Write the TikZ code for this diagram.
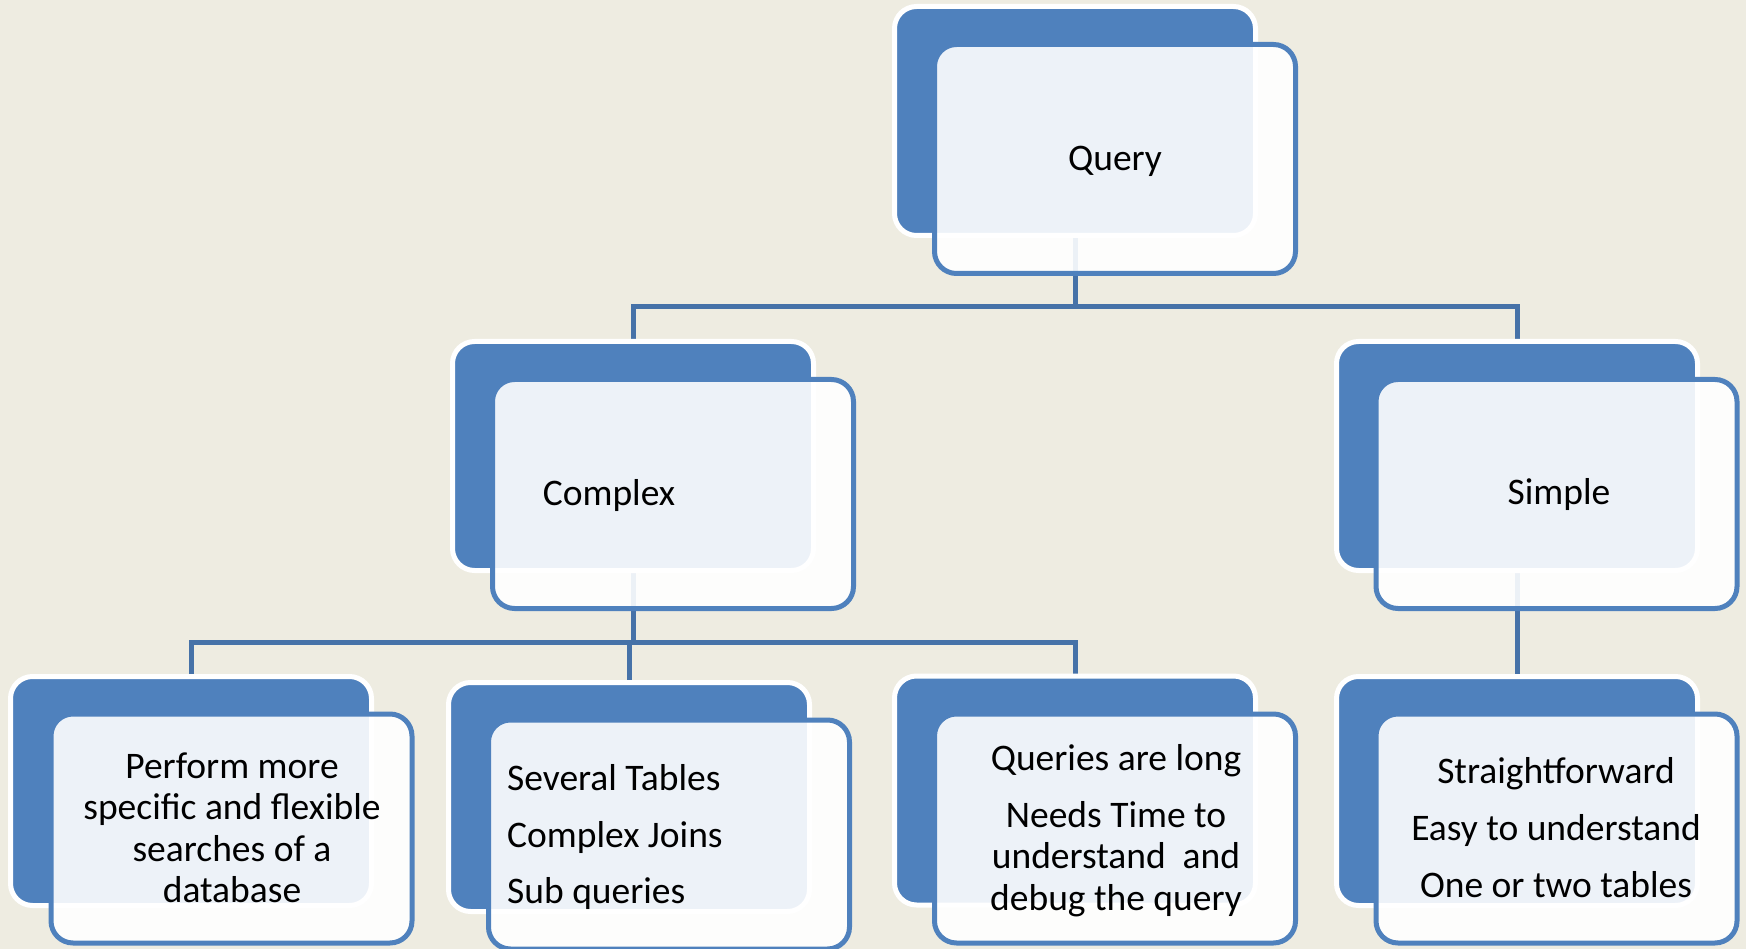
\documentclass[tikz,border=0pt]{standalone}
\usepackage{fontspec}
\setmainfont{Carlito}
\pgfdeclarelayer{bgl}
\pgfdeclarelayer{connl}
\pgfsetlayers{bgl,connl,main}
\definecolor{paper}{HTML}{EEECE1}
\definecolor{accent}{HTML}{4F81BD}
\definecolor{connc}{HTML}{4672A8}
\tikzset{
  darkbox/.style={draw=white, line width=5pt, fill=accent, rounded corners=22pt,
    minimum width=361pt, minimum height=229pt, inner sep=0pt, outer sep=0pt},
  lightbox/.style={draw=accent, line width=5pt, fill=white, fill opacity=0.9,
    rounded corners=22pt, minimum width=361pt, minimum height=229pt, inner sep=0pt, outer sep=0pt},
  conn/.style={draw=connc, line width=5pt},
  txt/.style={anchor=base, inner sep=0pt, font=\fontsize{37.5pt}{41.5pt}\selectfont, text=black},
  txtl/.style={txt, anchor=base west},
}
\begin{document}
\begin{tikzpicture}[x=1pt,y=-1pt]
\begin{pgfonlayer}{bgl}
  \fill[paper] (0,0) rectangle (1746,949);
\end{pgfonlayer}
\useasboundingbox (0,0) rectangle (1746,949);

% back (dark) boxes
\node[darkbox] (qd)  at (1075,121) {};
\node[darkbox] (cd)  at (633,456) {};
\node[darkbox] (sd)  at (1517,456) {};
\node[darkbox] (b1d) at (191,791) {};
\node[darkbox] (b2d) at (629,797) {};
\node[darkbox] (b3d) at (1075,790.5) {};
\node[darkbox] (b4d) at (1517,791) {};

% front (light) boxes
\node[lightbox] (ql)  at (1115,159) {};
\node[lightbox] (cl)  at (673,494) {};
\node[lightbox] (sl)  at (1556.5,494) {};
\node[lightbox] (b1l) at (231.5,828.5) {};
\node[lightbox] (b2l) at (669,834.5) {};
\node[lightbox] (b3l) at (1115,828.5) {};
\node[lightbox] (b4l) at (1556.5,828.5) {};

% connectors
\coordinate (h1) at (0,307);
\coordinate (h2) at (0,642);
\begin{pgfonlayer}{connl}
  \draw[conn] (qd.south) -- (qd.south |- h1);
  \draw[conn] (cd.north) |- (sd.north |- h1) -- (sd.north);
  \draw[conn] (cd.south) -- (cd.south |- h2);
  \draw[conn] (b1d.north) |- (b3d.north |- h2) -- (b3d.north);
  \draw[conn] (b2d.north) -- (b2d.north |- h2);
  \draw[conn] (sd.south) -- (sd.south |- b4d.north);
\end{pgfonlayer}

% texts
\node[txt] (tq) at (1115,171) {Query};
\node[txt] (tc) at (609,505) {Complex};
\node[txt] (ts) at (1559,504) {Simple};

\node[txt] (t11) at (232,778) {Perform more};
\node[txt] (t12) at (232,819.5) {specific and flexible};
\node[txt] (t13) at (232,861) {searches of a};
\node[txt] (t14) at (232,902.5) {database};

\node[txtl] (t21) at (507,790) {Several Tables};
\node[txtl] (t22) at (507,847) {Complex Joins};
\node[txtl] (t23) at (507,903) {Sub queries};

\node[txt] (t31) at (1116,770) {Queries are long};
\node[txt] (t32) at (1116,827) {Needs Time to};
\node[txt] (t33) at (1116,868.5) {understand\ \ and};
\node[txt] (t34) at (1116,910) {debug the query};

\node[txt] (t41) at (1556,783) {Straightforward};
\node[txt] (t42) at (1556,840) {Easy to understand};
\node[txt] (t43) at (1556,897) {One or two tables};
\end{tikzpicture}
\end{document}
